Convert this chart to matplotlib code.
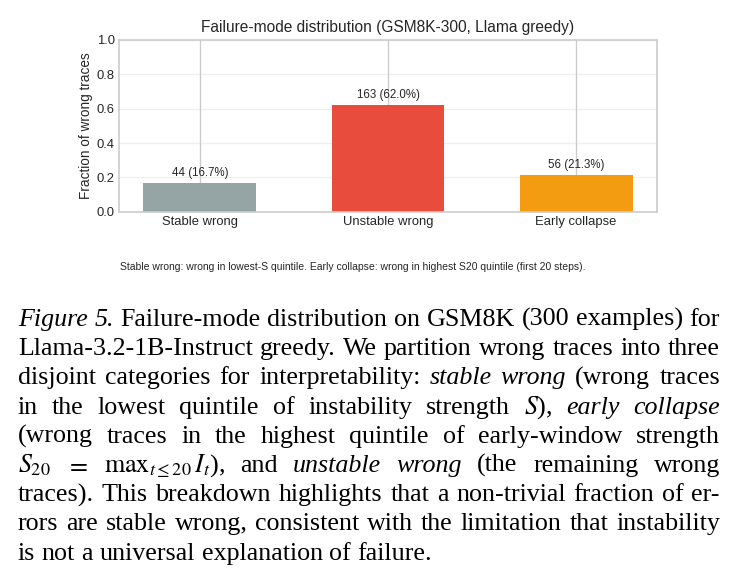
import matplotlib
matplotlib.use("Agg")
import matplotlib.pyplot as plt
import numpy as np

# data
categories = ["Stable wrong", "Unstable wrong", "Early collapse"]
counts = [44, 163, 56]
bar_colors = ["#95a5a6", "#e74c3c", "#f39c12"]

title = "Failure-mode distribution (GSM8K-300, Llama greedy)"
ylabel = "Fraction of wrong traces"
footnote = ("Stable wrong: wrong in lowest-S quintile. Early collapse: "
            "wrong in highest S20 quintile (first 20 steps).")

# caption lines, chunks of (text, italic)
caption_lines = [
    [("Figure 5.", True), ("Failure-mode distribution on GSM8K (300 examples) for", False)],
    [("Llama-3.2-1B-Instruct greedy. We partition wrong traces into three", False)],
    [("disjoint categories for interpretability:", False), ("stable wrong", True), ("(wrong traces", False)],
    [("in the lowest quintile of instability strength $S$),", False), ("early collapse", True)],
    [("(wrong traces in the highest quintile of early-window strength", False)],
    [(r"$S_{20}$ $=$ $\mathrm{max}_{t\leq20}\,I_t$), and", False), ("unstable wrong", True),
     ("(the remaining wrong", False)],
    [("traces). This breakdown highlights that a non-trivial fraction of er-", False)],
    [("rors are stable wrong, consistent with the limitation that instability", False)],
    [("is not a universal explanation of failure.", False)],
]

plt.rcParams["font.family"] = ["Liberation Sans", "DejaVu Sans"]
plt.rcParams["mathtext.fontset"] = "stix"

W, H = 739, 586
fig = plt.figure(figsize=(W / 100, H / 100), dpi=100)

# axes placed in pixels
left, right, top, bottom = 119, 657, 40, 211.7
ax = fig.add_axes([left / W, 1 - bottom / H, (right - left) / W, (bottom - top) / H])

total = sum(counts)
fracs = np.array(counts) / total
x = np.arange(len(categories))

ax.set_axisbelow(True)
ax.grid(axis="x", color="#cccccc", lw=1.0)
ax.grid(axis="y", color="#cccccc", lw=1.0, alpha=0.3)
bars = ax.bar(x, fracs, width=0.6, color=bar_colors)
for xi, c, f in zip(x, counts, fracs):
    ax.text(xi, f + 0.025, f"{c} ({f * 100:.1f}%)", ha="center", va="bottom",
            fontsize=8.3, color="#262626")

ax.set_xticks(x)
ax.set_xticklabels(categories)
ax.set_ylim(0, 1.0)
ax.set_yticks([0, 0.2, 0.4, 0.6, 0.8, 1.0])
ax.tick_params(length=0, labelsize=9.4, colors="#262626", pad=3)
ax.set_ylabel(ylabel, fontsize=9.8, color="#262626", labelpad=3)
ax.set_title(title, fontsize=11.2, color="#262626", pad=6)
for s in ax.spines.values():
    s.set_color("#cccccc")
    s.set_linewidth(1.2)

fig.text(120 / W, 1 - 267 / H, footnote, fontsize=7.5, color="#262626",
         ha="left", va="center")

# justified caption in Times-like serif
cap_size = 18.7
cap_left, cap_right = 18, 720
base0, step = 326, 29.2
renderer = fig.canvas.get_renderer()


def text_width(s, **kw):
    t = fig.text(0, 0, s, fontsize=cap_size, family="Liberation Serif", **kw)
    w = t.get_window_extent(renderer).width
    t.remove()
    return w


space = text_width("a a") - text_width("aa")

for i, line in enumerate(caption_lines):
    words = []
    for txt, ital in line:
        for w in txt.split(" "):
            words.append((w, ital))
    arts = []
    for w, ital in words:
        t = fig.text(0, 0, w, fontsize=cap_size, family="Liberation Serif",
                     style="italic" if ital else "normal", color="black",
                     ha="left", va="baseline")
        arts.append(t)
    widths = [t.get_window_extent(renderer).width for t in arts]
    if i < len(caption_lines) - 1 and len(arts) > 1:
        gap = (cap_right - cap_left - sum(widths)) / (len(arts) - 1)
    else:
        gap = space
    xpos = cap_left
    ypos = base0 + i * step
    for t, w in zip(arts, widths):
        t.set_position((xpos / W, 1 - ypos / H))
        xpos += w + gap

fig.savefig("out.png", dpi=100)
